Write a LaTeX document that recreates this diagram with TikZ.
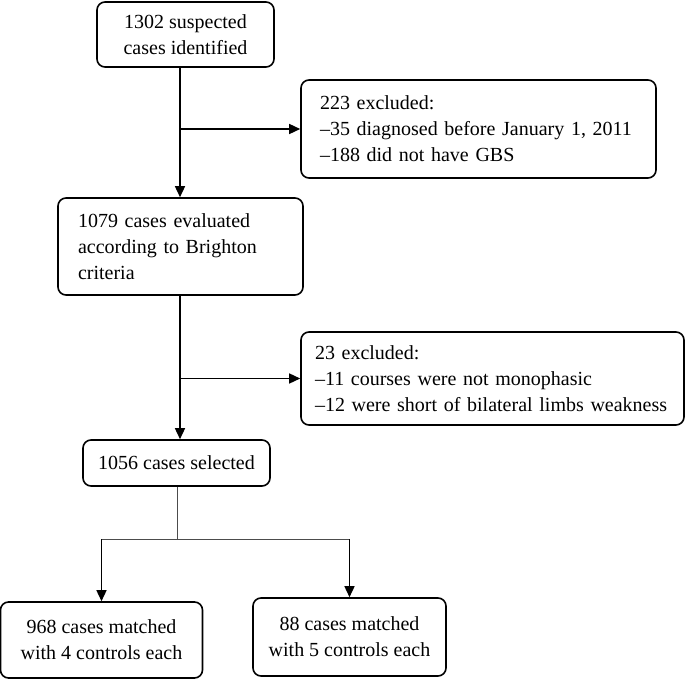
\documentclass[tikz,border=0pt]{standalone}
\usepackage{fontspec}
\setmainfont{Liberation Serif}
\usetikzlibrary{arrows.meta}

\begin{document}
\begin{tikzpicture}[x=1pt, y=-1pt,
  font=\fontsize{20}{26}\selectfont,
  box/.style={draw, rounded corners=8pt, line width=1.6pt, inner sep=0pt},
  arr/.style={line width=1.5pt, -{Triangle[length=11pt,width=10pt]}},
  thinline/.style={line width=0.9pt, draw=black!70}]
\useasboundingbox (0,0) rectangle (685,679);
% boxes
\node[box, minimum width=177pt, minimum height=65pt, align=center] (found) at (185.5,34.5) {1302 suspected\\cases identified};
\node[box, minimum width=355pt, minimum height=98pt, text width=317pt, align=left] (excl1) at (478.5,129) {223 excluded:\\--35 diagnosed before January 1, 2011\\--188 did not have GBS};
\node[box, minimum width=245pt, minimum height=97pt, text width=205pt, align=left] (eval) at (180.5,246.5) {1079 cases evaluated\\according to Brighton\\criteria};
\node[box, minimum width=383pt, minimum height=93pt, text width=355pt, align=left] (excl2) at (492.5,378.5) {23 excluded:\\--11 courses were not monophasic\\--12 were short of bilateral limbs weakness};
\node[box, minimum width=187pt, minimum height=46pt, align=center] (sel) at (176.5,463) {1056 cases selected};
\node[box, minimum width=202pt, minimum height=76pt, align=center] (four) at (101.5,640) {968 cases matched\\with 4 controls each};
\node[box, minimum width=193pt, minimum height=78pt, align=center] (five) at (349.5,637) {88 cases matched\\with 5 controls each};
% connectors
\coordinate (trunk) at (180,0);
\coordinate (split) at (177,539);
\draw[arr] (found.south -| trunk) -- (eval.north -| trunk);
\draw[arr] (excl1.west -| trunk) -- (excl1.west);
\draw[arr] (eval.south -| trunk) -- (sel.north -| trunk);
\draw[arr] (excl2.west -| trunk) -- (excl2.west);
\draw[thinline] (sel.south -| split) -- (split);
\draw[thinline] (split -| four.north) -- (split -| five.north);
\draw[arr] (split -| four.north) -- (four.north);
\draw[arr] (split -| five.north) -- (five.north);
\end{tikzpicture}
\end{document}
